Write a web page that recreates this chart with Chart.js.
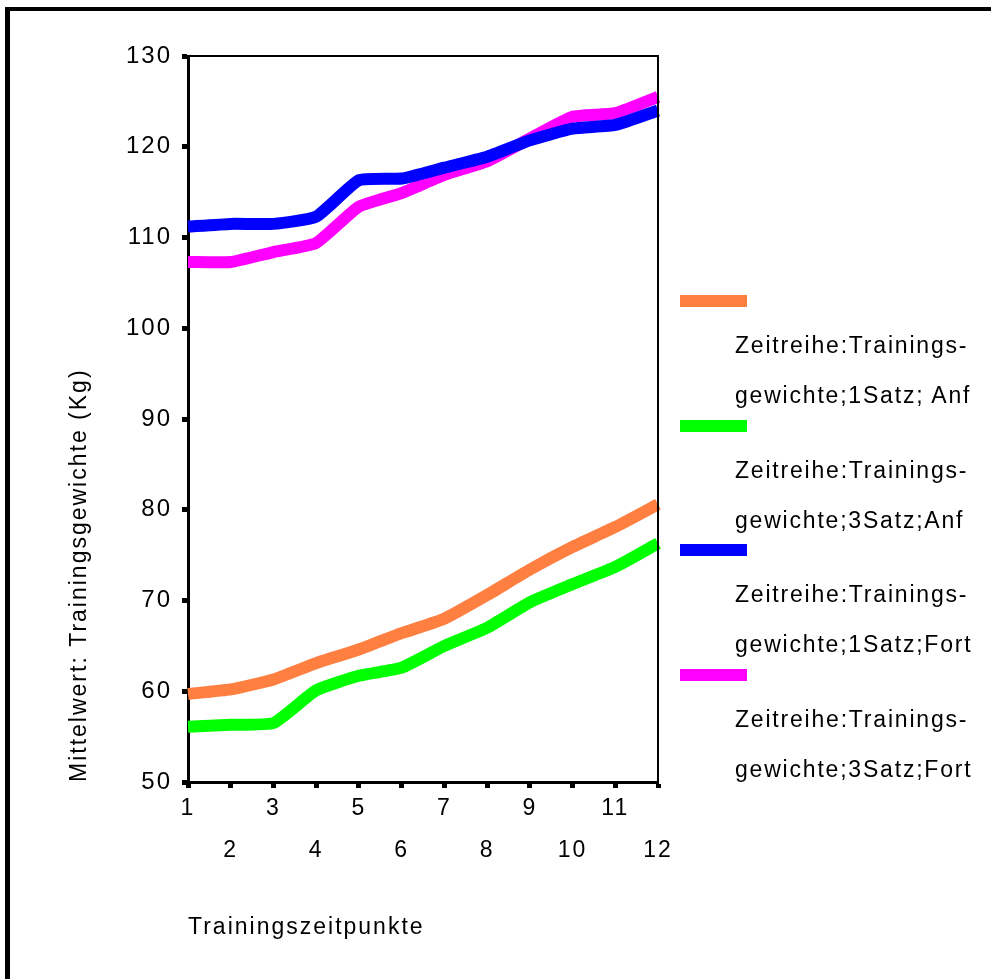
<!DOCTYPE html>
<html>
<head>
<meta charset="utf-8">
<script src="https://cdn.jsdelivr.net/npm/chart.js@4"></script>
<style>
  body { margin: 0; background: #fff; }
  #wrap { position: relative; width: 991px; height: 979px; overflow: hidden; }
  #frame { position: absolute; left: 5px; top: 7px; width: 1000px; height: 1000px;
    border-top: 4px solid #000; border-left: 5px solid #000; }
  #chart { position: absolute; left: 0; top: 0; }
  .legend { position: absolute; left: 0; top: 0; font-family: 'Liberation Sans', Arial, sans-serif;
    font-size: 23px; letter-spacing: 1.8px; color: #000; }
  .legend .sw { position: absolute; left: 680px; width: 67px; height: 12px; }
  .legend .tx { position: absolute; left: 735px; white-space: nowrap; line-height: 26px; }
</style>
</head>
<body>
<div id="wrap">
  <div id="frame"></div>
  <canvas id="chart" width="991" height="979"></canvas>
  <div class="legend" id="legend"></div>
</div>
<script>
// Trainingszeitpunkte 1..12
const labels = ['1', '2', '3', '4', '5', '6', '7', '8', '9', '10', '11', '12']

const satz1Anf = [59.7, 60.2, 61.3, 63.1, 64.6, 66.4, 68.0, 70.6, 73.4, 75.9, 78.1, 80.6]
const satz3Anf = [56.1, 56.3, 56.5, 60.1, 61.7, 62.6, 65.0, 67.0, 69.8, 71.8, 73.7, 76.3]
const satz1Fort = [111.2, 111.5, 111.5, 112.3, 116.3, 116.5, 117.7, 118.9, 120.7, 122.0, 122.4, 124.0]
const satz3Fort = [107.3, 107.3, 108.4, 109.4, 113.4, 114.9, 116.9, 118.4, 120.9, 123.3, 123.7, 125.5]

const seriesNames = [
  ['Zeitreihe:Trainings-', 'gewichte;1Satz; Anf'],
  ['Zeitreihe:Trainings-', 'gewichte;3Satz;Anf'],
  ['Zeitreihe:Trainings-', 'gewichte;1Satz;Fort'],
  ['Zeitreihe:Trainings-', 'gewichte;3Satz;Fort'],
]
const colors = ['#ff7f40', '#00ff00', '#0000ff', '#ff00ff']

const FONT = "'Liberation Sans', Arial, sans-serif"

// Rahmen oben/rechts + Buchstabenabstand
const framePlugin = {
  id: 'framePlugin',
  beforeDraw(chart) {
    chart.ctx.letterSpacing = '2px'
  },
  afterDraw(chart) {
    const { ctx, chartArea: a } = chart
    ctx.save()
    ctx.strokeStyle = '#000'
    ctx.lineWidth = 2
    ctx.beginPath()
    ctx.moveTo(a.left, a.top)
    ctx.lineTo(a.right, a.top)
    ctx.lineTo(a.right, a.bottom)
    ctx.stroke()
    ctx.restore()
  },
}

const datasets = [satz1Anf, satz3Anf, satz1Fort, satz3Fort].map((d, i) => ({
  label: seriesNames[i].join(''),
  data: d,
  borderColor: colors[i],
  backgroundColor: colors[i],
  borderWidth: 12,
  pointRadius: 0,
  tension: 0.15,
}))

const ctx = document.getElementById('chart')
const chart = new Chart(ctx, {
  type: 'line',
  data: { labels: labels, datasets: datasets },
  options: {
    responsive: false,
    animation: false,
    layout: { padding: { top: 56, right: 333, left: 0, bottom: 0 } },
    plugins: { legend: { display: false }, tooltip: { enabled: false } },
    scales: {
      x: {
        offset: false,
        border: { display: true, width: 3, color: '#000' },
        grid: { drawOnChartArea: false, drawTicks: true, tickLength: 6, tickWidth: 5, tickColor: '#000' },
        ticks: {
          autoSkip: false,
          maxRotation: 0,
          padding: 0,
          color: '#000',
          font: { family: FONT, size: 23, lineHeight: '42px' },
          callback: (v, i) => (i % 2 === 0 ? labels[i] : ['', labels[i]]),
        },
        title: {
          display: true,
          text: 'Trainingszeitpunkte',
          align: 'start',
          color: '#000',
          font: { family: FONT, size: 23 },
          padding: { top: 0, bottom: 38 },
        },
        afterFit: (s) => { s.height = 979 - 782 },
      },
      y: {
        min: 50,
        max: 130,
        border: { display: true, width: 3, color: '#000' },
        grid: { drawOnChartArea: false, drawTicks: true, tickLength: 6, tickWidth: 5, tickColor: '#000' },
        ticks: {
          stepSize: 10,
          padding: 10,
          color: '#000',
          font: { family: FONT, size: 24 },
        },
        title: {
          display: true,
          text: 'Mittelwert: Trainingsgewichte (Kg)',
          align: 'start',
          color: '#000',
          font: { family: FONT, size: 23 },
          padding: { top: 66, bottom: 0 },
        },
        afterFit: (s) => { s.width = 188 },
      },
    },
  },
  plugins: [framePlugin],
})

// Legende rechts
const legend = document.getElementById('legend')
seriesNames.forEach((name, i) => {
  const base = i * 124.6
  const sw = document.createElement('div')
  sw.className = 'sw'
  sw.style.top = (295 + base) + 'px'
  sw.style.background = colors[i]
  legend.appendChild(sw)
  name.forEach((line, j) => {
    const t = document.createElement('div')
    t.className = 'tx'
    t.style.top = (332 + base + j * 50) + 'px'
    t.textContent = line
    legend.appendChild(t)
  })
})
</script>
</body>
</html>
